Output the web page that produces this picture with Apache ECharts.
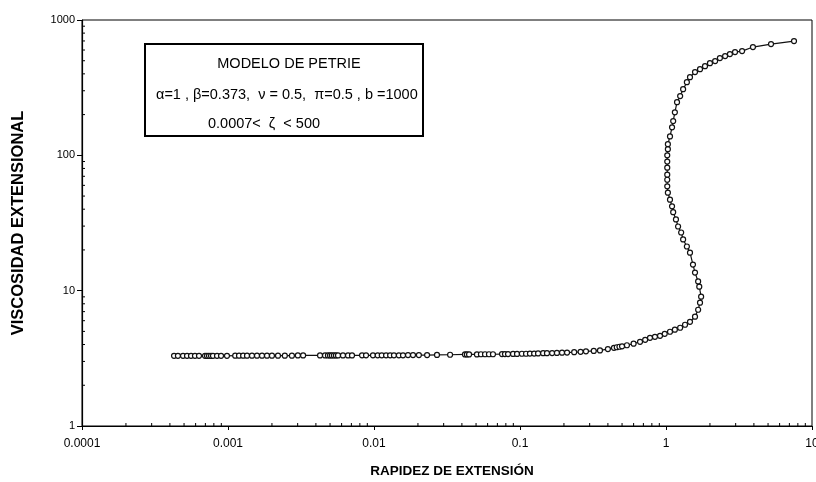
<!DOCTYPE html>
<html>
<head>
<meta charset="utf-8">
<script src="https://cdn.jsdelivr.net/npm/echarts@6/dist/echarts.min.js"></script>
<style>html,body{margin:0;padding:0;background:#fff;}#c{width:816px;height:482px;}</style>
</head>
<body>
<div id="c"></div>
<script>
// Rapidez de extensión (x) and viscosidad extensional (y), in plotting order
const rate = [
 4.27e-4,4.54e-4,4.92e-4,5.24e-4,5.58e-4,5.94e-4,6.33e-4,6.96e-4,7.18e-4,7.41e-4,7.65e-4,7.89e-4,8.41e-4,8.96e-4,9.84e-4,
 1.12e-3,1.19e-3,1.27e-3,1.35e-3,1.46e-3,1.58e-3,1.71e-3,1.85e-3,2.00e-3,2.20e-3,2.45e-3,2.74e-3,3.01e-3,3.27e-3,
 4.27e-3,4.62e-3,4.84e-3,5.00e-3,5.15e-3,5.32e-3,5.49e-3,5.67e-3,6.13e-3,6.64e-3,7.07e-3,8.28e-3,8.82e-3,9.84e-3,
 0.0106,0.0113,0.0121,0.0129,0.0137,0.0148,0.0158,0.0171,0.0185,0.0203,0.0231,0.0270,0.0332,
 0.0420,0.0433,0.0448,0.0507,0.0540,0.0576,0.0613,0.0653,0.0753,0.0789,0.0828,0.0896,0.0954,
 0.103,0.110,0.117,0.125,0.133,0.144,0.153,0.166,0.179,0.194,0.210,
 0.235,0.26,0.283,0.32,0.353,0.40,0.44,0.46,0.48,0.50,0.54,0.60,0.664,0.72,0.777,0.84,0.910,0.98,1.065,1.15,1.25,1.35,1.46,1.58,1.66,1.71,1.74,
 1.69,1.66,1.58,1.53,1.46,1.39,1.31,1.27,1.21,1.17,1.12,1.10,1.065,1.03,1.02,1.02,1.02,1.02,1.02,1.02,
 1.03,1.03,1.065,1.10,1.12,1.15,1.19,1.25,1.31,1.39,1.46,1.58,1.71,1.85,2.00,2.17,2.34,2.54,2.74,2.97,3.32,3.94,5.24,7.53
];
const visc = [
 3.30,3.30,3.30,3.30,3.30,3.30,3.30,3.30,3.30,3.30,3.30,3.30,3.30,3.30,3.30,
 3.31,3.31,3.31,3.31,3.31,3.31,3.31,3.31,3.31,3.31,3.31,3.31,3.32,3.32,
 3.32,3.32,3.32,3.32,3.32,3.32,3.32,3.32,3.32,3.32,3.32,3.33,3.33,3.33,
 3.33,3.33,3.33,3.33,3.33,3.33,3.33,3.34,3.34,3.34,3.34,3.35,3.36,
 3.38,3.38,3.38,3.38,3.39,3.39,3.39,3.39,3.40,3.40,3.40,3.41,3.41,
 3.42,3.42,3.43,3.43,3.44,3.45,3.45,3.46,3.47,3.48,3.49,
 3.51,3.53,3.56,3.59,3.62,3.70,3.78,3.82,3.85,3.88,3.95,4.06,4.19,4.33,4.48,4.56,4.64,4.80,4.97,5.15,5.32,5.60,5.89,6.42,7.23,8.15,9.03,
 10.7,11.7,13.6,15.6,19.1,21.2,23.9,26.9,29.8,33.6,38,42,47,53,59,66,72,81,90,100,
 111,121,138,161,179,208,247,274,308,347,378,412,433,456,480,497,523,541,560,579,589,631,664,699
];
const xTickLabels = ['0.0001','0.001','0.01','0.1','1','10'];
const yTickLabels = ['1','10','100','1000'];
const xTitle = 'RAPIDEZ DE EXTENSIÓN';
const yTitle = 'VISCOSIDAD EXTENSIONAL';
const boxLines = ['MODELO DE PETRIE', 'α=1 , β=0.373,  ν = 0.5,  π=0.5 , b =1000', '0.0007<  ζ  < 500'];

const points = rate.map((r, i) => [r, visc[i]]);
const xMinor = [], yMinor = [];
for (let e = -4; e < 1; e++) for (let m = 2; m <= 9; m++) xMinor.push([m * Math.pow(10, e), 1]);
for (let e = 0; e < 3; e++) for (let m = 2; m <= 9; m++) yMinor.push([1e-4, m * Math.pow(10, e)]);

const chart = echarts.init(document.getElementById('c'), null, {renderer: 'canvas'});
const labelFont = '"Liberation Sans",Arial,sans-serif';
const boxFont = '"Liberation Sans",Arial,sans-serif';
chart.setOption({
  animation: false,
  backgroundColor: '#fff',
  grid: {left: 82, right: 4, top: 20, bottom: 56, show: true, borderColor: '#000', borderWidth: 1,
         backgroundColor: 'transparent', containLabel: false, outerBoundsMode: 'none'},
  xAxis: {
    type: 'log', logBase: 10, min: 0.0001, max: 10, splitNumber: 5,
    axisLine: {show: true, lineStyle: {color: '#000', width: 1.2}},
    axisTick: {show: true, length: 4, lineStyle: {color: '#000'}},
    splitLine: {show: false},
    axisLabel: {color: '#000', fontSize: 12, fontFamily: labelFont, margin: 12,
      formatter: v => xTickLabels[Math.round(Math.log10(v)) + 4]},
    name: xTitle, nameLocation: 'middle', nameGap: 38,
    nameTextStyle: {color: '#000', fontSize: 13.5, fontWeight: 'bold', fontFamily: labelFont, padding: [0, 0, 0, 10]}
  },
  yAxis: {
    type: 'log', logBase: 10, min: 1, max: 1000, splitNumber: 3,
    axisLine: {show: true, lineStyle: {color: '#000', width: 1.2}},
    axisTick: {show: true, length: 5, lineStyle: {color: '#000'}},
    splitLine: {show: false},
    axisLabel: {color: '#000', fontSize: 11, fontFamily: labelFont, margin: 7,
      formatter: v => yTickLabels[Math.round(Math.log10(v))]},
    name: yTitle, nameLocation: 'middle', nameGap: 55, nameRotate: 90,
    nameTextStyle: {color: '#000', fontSize: 16.5, fontWeight: 'bold', fontFamily: labelFont}
  },
  series: [
    {
      type: 'line', data: points, showSymbol: true, symbol: 'circle', symbolSize: 5,
      lineStyle: {color: '#111', width: 1.2},
      itemStyle: {color: '#fff', borderColor: '#111', borderWidth: 1.2},
      z: 3
    },
    {
      type: 'custom', data: xMinor, silent: true, clip: false, z: 4,
      renderItem: (params, api) => {
        const p = api.coord([api.value(0), 1]);
        return {type: 'line', shape: {x1: p[0], y1: p[1], x2: p[0], y2: p[1] - 3}, style: {stroke: '#000', lineWidth: 1}};
      }
    },
    {
      type: 'custom', data: yMinor, silent: true, clip: false, z: 4,
      renderItem: (params, api) => {
        const p = api.coord([1e-4, api.value(1)]);
        return {type: 'line', shape: {x1: p[0], y1: p[1], x2: p[0] + 3, y2: p[1]}, style: {stroke: '#000', lineWidth: 1}};
      }
    }
  ],
  graphic: [
    {type: 'rect', left: 144, top: 43, shape: {width: 278, height: 92}, style: {fill: '#fff', stroke: '#000', lineWidth: 2}, z: 10},
    {type: 'text', x: 289, y: 64, style: {text: boxLines[0], fill: '#000', font: '14.5px ' + boxFont, align: 'center', verticalAlign: 'middle'}, z: 11},
    {type: 'text', x: 156, y: 95, style: {text: boxLines[1], fill: '#000', font: '14.5px ' + boxFont, align: 'left', verticalAlign: 'middle'}, z: 11},
    {type: 'text', x: 208, y: 124, style: {text: boxLines[2], fill: '#000', font: '14.5px ' + boxFont, align: 'left', verticalAlign: 'middle'}, z: 11}
  ]
});
</script>
</body>
</html>
